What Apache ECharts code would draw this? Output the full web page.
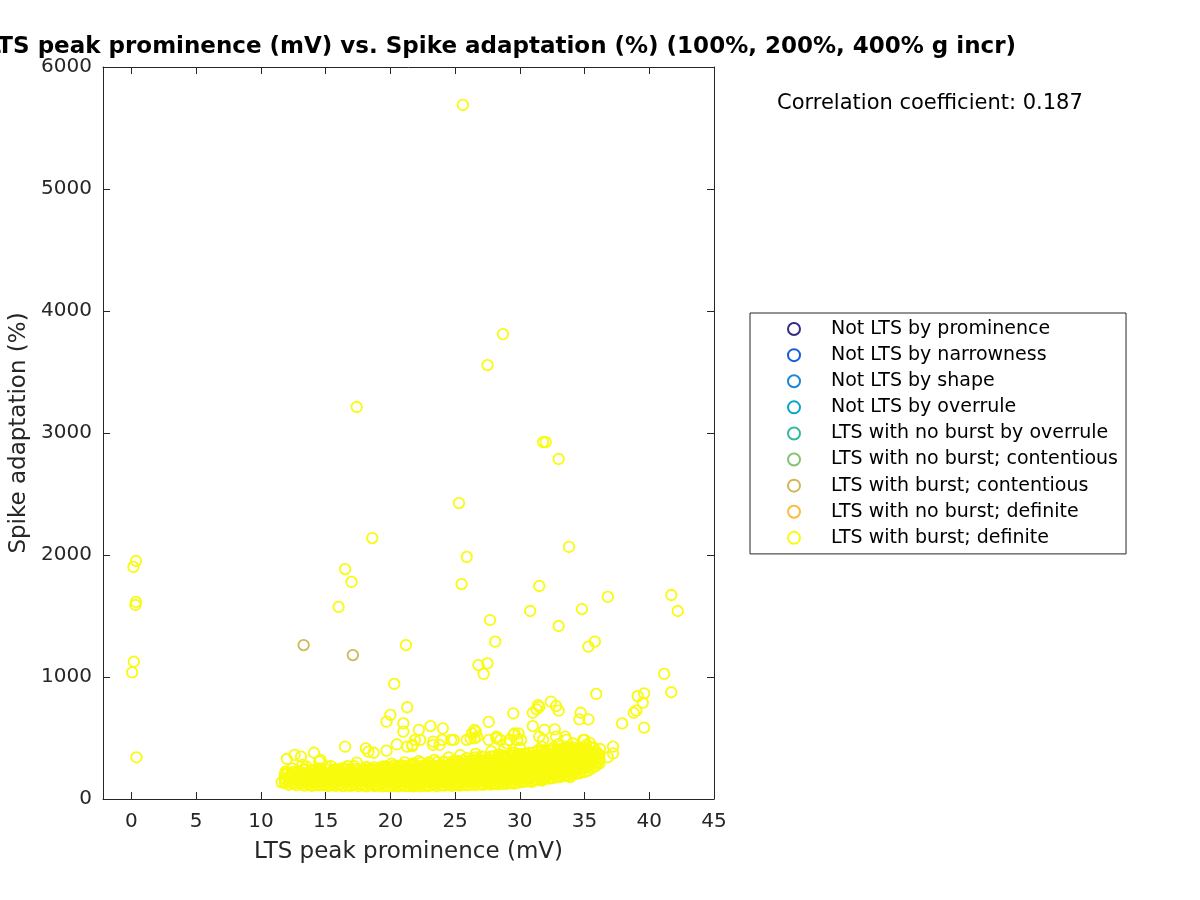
<!DOCTYPE html>
<html>
<head>
<meta charset="utf-8">
<script src="https://cdn.jsdelivr.net/npm/echarts@6/dist/echarts.min.js"></script>
<style>
  html, body { margin: 0; padding: 0; background: #fff; }
  #main { width: 1200px; height: 900px; }
</style>
</head>
<body>
<div id="main"></div>
<script>
var xTicks = [0, 5, 10, 15, 20, 25, 30, 35, 40, 45];

var legendNames = [
  'Not LTS by prominence',
  'Not LTS by narrowness',
  'Not LTS by shape',
  'Not LTS by overrule',
  'LTS with no burst by overrule',
  'LTS with no burst; contentious',
  'LTS with burst; contentious',
  'LTS with no burst; definite',
  'LTS with burst; definite'
];
var legendColors = ['#352a87', '#145dd9', '#1e88d8', '#06a4ca', '#35b8a0', '#86c270', '#d1b659', '#fbbc40', '#f9fb0e'];

// [LTS peak prominence (mV), spike adaptation (%)]
var notLtsProminence = [];
var notLtsNarrowness = [];
var notLtsShape = [];
var notLtsOverrule = [];
var noBurstOverrule = [];
var noBurstContentious = [];
var burstContentious = [[13.3, 1262], [17.1, 1180]];
var noBurstDefinite = [];

var burstDefiniteOutliers = [
  [0.05, 1038], [0.18, 1125], [0.15, 1902], [0.35, 1951], [0.35, 1615], [0.3, 1590], [0.39, 342],
  [17.4, 3213], [25.6, 5689], [28.7, 3811], [27.5, 3557], [31.8, 2926], [32.0, 2926], [33.0, 2787],
  [25.3, 2426], [18.6, 2139], [33.8, 2066], [16.5, 1885], [25.9, 1984], [17.0, 1779], [25.5, 1762],
  [31.5, 1746], [16.0, 1574], [30.8, 1541], [34.8, 1557], [36.8, 1656], [41.7, 1672], [42.2, 1541],
  [27.7, 1467], [33.0, 1418], [35.8, 1290], [35.3, 1249], [28.1, 1290], [21.2, 1262], [26.8, 1098],
  [27.5, 1112], [27.2, 1025], [41.15, 1025], [41.7, 875], [35.9, 861], [20.3, 943], [39.1, 844],
  [39.6, 866], [39.5, 790], [38.8, 707], [39.0, 724], [39.6, 585], [37.9, 620], [34.7, 707],
  [34.6, 653], [35.3, 653], [29.5, 702], [31.0, 707], [31.3, 734], [31.5, 755], [32.4, 798],
  [32.8, 762], [33.0, 724], [27.6, 632], [31.0, 598], [32.7, 571], [24.05, 579], [23.1, 598],
  [21.3, 752], [20.0, 689], [19.7, 634], [21.0, 620], [21.0, 552], [22.2, 566], [16.5, 429],
  [18.1, 415], [18.7, 379], [19.7, 396], [20.5, 448], [21.7, 443], [21.9, 484], [12.0, 328],
  [12.6, 361], [13.1, 347], [14.1, 379], [14.5, 306], [15.4, 270], [16.7, 270], [17.4, 298],
  [11.6, 137], [11.9, 210], [18.3, 388], [14.6, 320], [11.9, 224],
  [21.7, 434], [23.3, 443], [23.8, 443], [24.9, 484], [26.6, 552], [26.5, 497], [26.2, 497],
  [28.2, 497], [29.0, 456], [29.5, 525], [29.8, 484], [24.7, 484], [26.5, 566], [28.2, 511],
  [29.2, 484], [29.9, 538], [31.9, 566], [33.5, 511], [34.9, 484], [35.9, 388], [36.8, 342],
  [37.2, 429], [37.2, 374], [31.4, 770], [29.6, 538], [30.1, 484], [31.5, 511], [31.8, 484],
  [32.8, 511], [33.6, 484], [34.1, 456], [35.0, 484], [35.4, 429], [21.3, 429], [22.3, 484],
  [23.3, 470], [24.0, 484], [25.9, 484], [26.3, 538], [26.7, 511], [27.6, 484], [28.5, 484]
];

var burstDefiniteCluster = [
  [11.9, 140], [12.2, 175], [12.1, 215], [12.4, 250],
  [12.6, 130], [12.8, 190], [12.5, 160], [12.9, 230],
  [13.1, 125], [13.3, 170], [13.0, 205], [13.4, 245], [13.2, 280],
  [13.6, 150], [13.8, 120], [13.7, 195], [13.9, 230], [13.5, 265],
  [14.2, 135], [14.4, 175], [14.1, 210], [14.5, 250], [14.3, 160],
  [14.8, 115], [14.9, 150], [15.0, 190], [14.7, 230], [15.1, 265],
  [15.5, 130], [15.4, 165], [15.7, 200], [15.6, 240], [15.3, 110],
  [16.1, 120], [16.0, 150], [16.3, 185], [16.2, 225], [16.4, 255],
  [16.8, 140], [16.7, 110], [16.9, 175], [17.0, 215], [16.6, 245],
  [17.4, 125], [17.3, 160], [17.6, 195], [17.5, 235], [17.2, 270],
  [18.0, 115], [18.1, 145], [18.2, 180], [17.9, 220], [18.3, 255],
  [18.6, 130], [18.7, 165], [18.5, 200], [18.8, 240], [18.9, 110],
  [19.2, 120], [19.1, 150], [19.4, 185], [19.3, 225], [19.5, 265],
  [19.8, 140], [19.7, 110], [20.0, 175], [19.9, 215], [19.6, 250], [20.1, 290],
  [20.4, 125], [20.3, 160], [20.6, 195], [20.5, 235], [20.7, 270],
  [21.0, 115], [21.1, 145], [21.2, 180], [20.9, 220], [21.3, 255], [21.1, 300],
  [21.6, 130], [21.7, 165], [21.5, 200], [21.8, 240], [21.9, 110], [21.7, 280],
  [22.2, 120], [22.1, 150], [22.4, 185], [22.3, 225], [22.5, 265], [22.2, 310],
  [22.8, 140], [22.7, 110], [23.0, 175], [22.9, 215], [22.6, 250], [23.1, 290],
  [23.4, 125], [23.3, 160], [23.6, 195], [23.5, 235], [23.7, 270], [23.4, 320],
  [24.0, 115], [24.1, 145], [24.2, 180], [23.9, 220], [24.3, 255], [24.1, 300],
  [24.6, 130], [24.7, 165], [24.5, 200], [24.8, 240], [24.9, 120], [24.7, 285], [24.5, 340],
  [25.2, 120], [25.1, 150], [25.4, 185], [25.3, 225], [25.5, 265], [25.2, 310], [25.4, 360],
  [25.8, 140], [25.7, 115], [26.0, 175], [25.9, 215], [25.6, 250], [26.1, 290], [25.9, 335],
  [26.4, 130], [26.3, 160], [26.6, 195], [26.5, 235], [26.7, 275], [26.4, 320], [26.6, 370],
  [27.0, 125], [27.1, 150], [27.2, 185], [26.9, 225], [27.3, 260], [27.1, 305], [27.0, 350],
  [27.6, 140], [27.7, 170], [27.5, 205], [27.8, 245], [27.9, 130], [27.7, 290], [27.5, 330], [27.8, 390],
  [28.2, 135], [28.1, 165], [28.4, 200], [28.3, 240], [28.5, 280], [28.2, 320], [28.4, 365],
  [28.8, 150], [28.7, 125], [29.0, 185], [28.9, 225], [28.6, 265], [29.1, 305], [28.9, 345], [28.8, 410],
  [29.4, 140], [29.3, 175], [29.6, 210], [29.5, 250], [29.7, 290], [29.4, 330], [29.6, 380],
  [30.0, 150], [30.1, 185], [30.2, 220], [29.9, 260], [30.3, 300], [30.1, 345], [30.0, 420],
  [30.6, 165], [30.7, 200], [30.5, 240], [30.8, 280], [30.9, 140], [30.7, 320], [30.5, 365],
  [31.2, 160], [31.1, 190], [31.4, 230], [31.3, 270], [31.5, 310], [31.2, 355], [31.4, 400],
  [31.8, 175], [31.7, 150], [32.0, 210], [31.9, 250], [31.6, 290], [32.1, 335], [31.9, 380], [31.7, 430],
  [32.4, 170], [32.3, 205], [32.6, 240], [32.5, 280], [32.7, 320], [32.4, 365], [32.6, 420],
  [33.0, 190], [33.1, 225], [33.2, 260], [32.9, 300], [33.3, 340], [33.1, 385], [33.0, 450],
  [33.6, 200], [33.7, 235], [33.5, 275], [33.8, 315], [33.9, 180], [33.7, 360], [33.5, 410],
  [34.2, 215], [34.1, 250], [34.4, 290], [34.3, 330], [34.5, 370], [34.2, 420],
  [34.8, 240], [34.7, 275], [35.0, 315], [34.9, 355], [34.6, 395], [35.1, 440],
  [35.4, 270], [35.3, 305], [35.6, 340], [35.5, 380], [35.7, 420], [35.4, 460],
  [36.0, 300], [36.1, 340], [35.9, 375], [36.2, 410]
];

// dense core of the cloud, read column by column: [prominence, [adaptation values]]
var burstDefiniteCore = [
  [11.85, [131, 166, 198]], [12.15, [117, 152, 181]], [12.45, [126, 155, 194, 221]],
  [12.75, [113, 149, 177, 216]], [13.05, [121, 150, 190, 219]], [13.35, [109, 144, 173, 212, 238]],
  [13.65, [118, 147, 187, 214]], [13.95, [107, 142, 169, 208, 236]], [14.25, [114, 151, 179, 217]],
  [14.55, [111, 140, 178, 207, 234]], [14.85, [119, 153, 181, 220]], [15.15, [108, 138, 176, 205, 240]],
  [15.45, [115, 152, 180, 218]], [15.75, [107, 141, 170, 209, 233]], [16.05, [112, 149, 177, 216, 246]],
  [16.35, [106, 136, 173, 201, 238]], [16.65, [116, 145, 184, 212]], [16.95, [108, 143, 171, 209, 236]],
  [17.25, [113, 150, 178, 215, 247]], [17.55, [105, 137, 174, 202, 239]], [17.85, [111, 148, 175, 214, 243]],
  [18.15, [104, 139, 168, 206, 233, 264]], [18.45, [112, 142, 180, 208, 245]], [18.75, [105, 136, 174, 201, 237, 258]],
  [19.05, [111, 147, 176, 213, 242]], [19.35, [104, 138, 167, 205, 232, 265]], [19.65, [109, 145, 173, 211, 244, 268]],
  [19.95, [103, 134, 170, 198, 235, 261]], [20.25, [110, 139, 177, 205, 242, 274]], [20.55, [104, 137, 166, 204, 231, 268]],
  [20.85, [109, 144, 172, 210, 239, 276]], [21.15, [106, 135, 173, 200, 238, 265]], [21.45, [108, 143, 171, 209, 237, 274]],
  [21.75, [103, 138, 166, 203, 232, 268, 292]], [22.05, [111, 140, 178, 206, 243, 271]], [22.35, [104, 139, 167, 205, 234, 266, 296]],
  [22.65, [112, 141, 179, 207, 244, 277]], [22.95, [105, 140, 169, 202, 239, 268, 299]], [23.25, [113, 142, 180, 208, 245, 274]],
  [23.55, [106, 137, 174, 203, 240, 269, 301]], [23.85, [112, 147, 176, 213, 242, 279]], [24.15, [109, 138, 175, 204, 241, 270, 304]],
  [24.45, [115, 144, 181, 210, 247, 276]], [24.75, [108, 143, 172, 209, 238, 275, 307]], [25.05, [116, 146, 183, 212, 249, 278, 312]],
  [25.35, [110, 145, 174, 211, 240, 277, 306]], [25.65, [118, 148, 185, 214, 251, 280, 317]], [25.95, [111, 146, 175, 212, 241, 278, 307]],
  [26.25, [119, 149, 186, 215, 252, 281, 318]], [26.55, [114, 144, 181, 210, 247, 276, 313, 342]], [26.85, [120, 150, 187, 216, 253, 282, 319]],
  [27.15, [116, 147, 184, 213, 250, 279, 316, 344]], [27.45, [122, 152, 189, 218, 255, 284, 321]], [27.75, [118, 149, 186, 215, 252, 281, 318, 347]],
  [28.05, [125, 155, 192, 221, 258, 287, 324, 353]], [28.35, [121, 152, 189, 218, 255, 284, 321, 349]], [28.65, [128, 158, 195, 224, 261, 290, 327, 357]],
  [28.95, [124, 155, 192, 221, 258, 287, 324, 352]], [29.25, [131, 161, 198, 227, 264, 293, 330, 361]], [29.55, [126, 158, 195, 224, 261, 290, 327, 359]],
  [29.85, [135, 165, 202, 231, 268, 297, 334, 366]], [30.15, [139, 169, 206, 235, 272, 301, 338, 368]], [30.45, [143, 173, 210, 239, 276, 305, 342, 374]],
  [30.75, [147, 177, 214, 243, 280, 309, 346, 377]], [31.05, [151, 181, 218, 247, 284, 313, 350, 382]], [31.35, [155, 185, 222, 251, 288, 317, 354, 384]],
  [31.65, [159, 189, 226, 255, 292, 321, 358, 390]], [31.95, [164, 194, 231, 260, 297, 326, 363, 393]], [32.25, [168, 198, 235, 264, 301, 330, 367, 399]],
  [32.55, [172, 202, 239, 268, 305, 334, 371, 401]], [32.85, [177, 207, 244, 273, 310, 339, 376, 407]], [33.15, [182, 212, 249, 278, 315, 344, 381, 409]],
  [33.45, [187, 217, 254, 283, 320, 349, 386, 415]], [33.75, [193, 223, 260, 289, 326, 355, 392, 417]], [34.05, [199, 229, 266, 295, 332, 361, 398, 423]],
  [34.35, [206, 236, 273, 302, 339, 368, 404]], [34.65, [213, 243, 280, 309, 346, 375, 411]], [34.95, [221, 251, 288, 317, 354, 383, 414]],
  [35.25, [231, 261, 298, 327, 364, 394]], [35.55, [251, 281, 318, 347, 384]], [35.85, [269, 299, 335, 364]],
  [36.15, [291, 324, 361]]
];

var burstDefinite = burstDefiniteOutliers.concat(burstDefiniteCluster);
burstDefiniteCore.forEach(function (col) {
  col[1].forEach(function (v) { burstDefinite.push([col[0], v]); });
});

var seriesData = [
  notLtsProminence, notLtsNarrowness, notLtsShape, notLtsOverrule, noBurstOverrule,
  noBurstContentious, burstContentious, noBurstDefinite, burstDefinite
];

var FONT = '"DejaVu Sans", sans-serif';
var ink = '#262626';

var myChart = echarts.init(document.getElementById('main'), null, { renderer: 'canvas' });

var series = legendNames.map(function (name, i) {
  return {
    type: 'scatter',
    name: name,
    data: seriesData[i],
    symbol: 'circle',
    symbolSize: 10.5,
    xAxisIndex: 0,
    yAxisIndex: 0,
    large: false,
    progressive: 0,
    itemStyle: {
      color: 'rgba(255,255,255,0)',
      borderColor: legendColors[i],
      borderWidth: 1.8,
      opacity: 1
    },
    emphasis: { disabled: true }
  };
});

var tickStyle = { inside: true, length: 7, lineStyle: { color: ink, width: 1 } };

var option = {
  backgroundColor: '#fff',
  animation: false,
  grid: { left: 103, top: 67, width: 611, height: 732, outerBoundsMode: 'none' },
  legend: {
    orient: 'vertical',
    left: 750,
    top: 313,
    padding: [3, 8, 3, 37],
    itemWidth: 64,
    itemHeight: 12,
    itemGap: 0,
    selectedMode: false,
    borderColor: ink,
    borderWidth: 1,
    textStyle: { fontFamily: FONT, fontSize: 19, lineHeight: 26.1, color: '#000' },
    data: legendNames
  },
  xAxis: [{
    type: 'value',
    min: -2.2,
    max: 45,
    position: 'bottom',
    name: 'LTS peak prominence (mV)',
    nameLocation: 'middle',
    nameGap: 42,
    nameTextStyle: { fontFamily: FONT, fontSize: 23, color: ink },
    axisLine: { show: true, onZero: false, lineStyle: { color: ink, width: 1 } },
    axisTick: Object.assign({ customValues: xTicks }, tickStyle),
    axisLabel: { customValues: xTicks, fontFamily: FONT, fontSize: 20, color: ink, margin: 13 },
    splitLine: { show: false }
  }, {
    type: 'value',
    min: -2.2,
    max: 45,
    position: 'top',
    axisLine: { show: true, onZero: false, lineStyle: { color: ink, width: 1 } },
    axisTick: Object.assign({ customValues: xTicks }, tickStyle),
    axisLabel: { show: false },
    splitLine: { show: false }
  }],
  yAxis: [{
    type: 'value',
    min: 0,
    max: 6000,
    interval: 1000,
    position: 'left',
    name: 'Spike adaptation (%)',
    nameLocation: 'middle',
    nameGap: 56,
    nameTextStyle: { fontFamily: FONT, fontSize: 23, color: ink },
    axisLine: { show: true, onZero: false, lineStyle: { color: ink, width: 1 } },
    axisTick: tickStyle,
    axisLabel: {
      fontFamily: FONT, fontSize: 20, color: ink, margin: 11,
      formatter: function (v) { return String(v); }
    },
    splitLine: { show: false }
  }, {
    type: 'value',
    min: 0,
    max: 6000,
    interval: 1000,
    position: 'right',
    axisLine: { show: true, onZero: false, lineStyle: { color: ink, width: 1 } },
    axisTick: tickStyle,
    axisLabel: { show: false },
    splitLine: { show: false }
  }],
  graphic: [{
    type: 'text',
    x: 1016,
    y: 47,
    style: {
      text: 'LTS peak prominence (mV) vs. Spike adaptation (%) (100%, 200%, 400% g incr)',
      font: 'bold 23px "DejaVu Sans", sans-serif',
      fill: '#000',
      textAlign: 'right', align: 'right',
      textVerticalAlign: 'middle', verticalAlign: 'middle'
    }
  }, {
    type: 'text',
    x: 777,
    y: 104,
    style: {
      text: 'Correlation coefficient: 0.187',
      font: '21px "DejaVu Sans", sans-serif',
      fill: '#000',
      textAlign: 'left', align: 'left',
      textVerticalAlign: 'middle', verticalAlign: 'middle'
    }
  }],
  series: series
};

myChart.setOption(option);
</script>
</body>
</html>
